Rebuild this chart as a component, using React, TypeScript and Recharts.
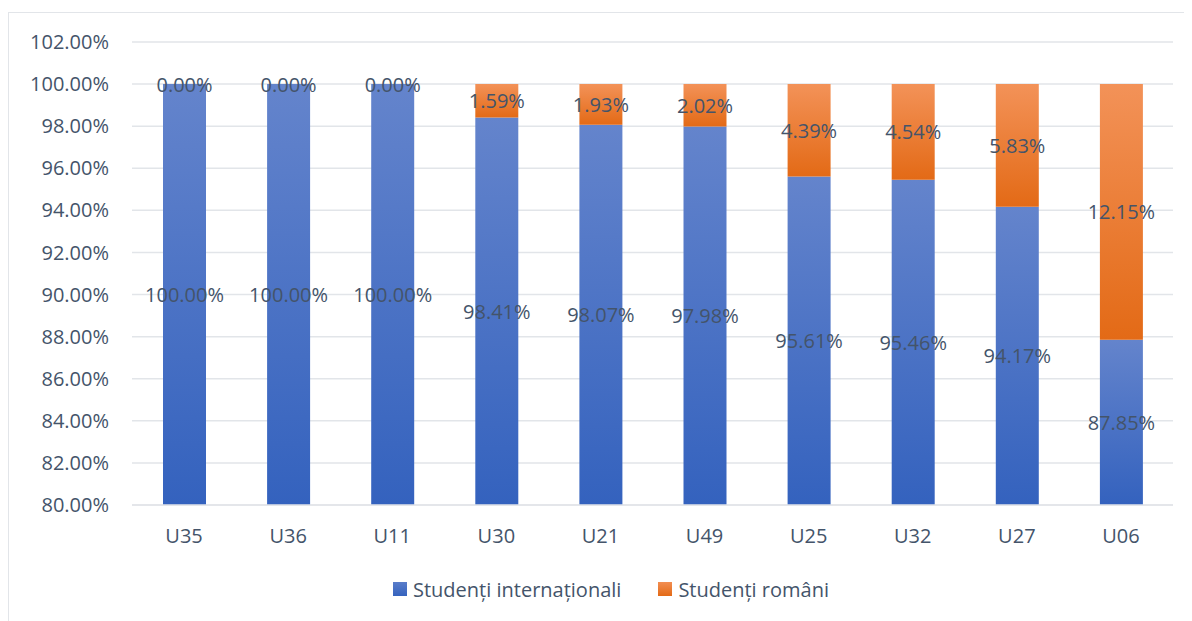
import React from 'react';
import { BarChart, Bar, XAxis, YAxis, CartesianGrid, Legend, LabelList } from 'recharts';

const categories = ['U35', 'U36', 'U11', 'U30', 'U21', 'U49', 'U25', 'U32', 'U27', 'U06'];
const international = [100, 100, 100, 98.41, 98.07, 97.98, 95.61, 95.46, 94.17, 87.85];
const romanian = [0, 0, 0, 1.59, 1.93, 2.02, 4.39, 4.54, 5.83, 12.15];
const yTickValues = [80, 82, 84, 86, 88, 90, 92, 94, 96, 98, 100, 102];
const seriesNames = ['Studenți internaționali', 'Studenți români'];

// The value axis starts at 80%; bars are measured from that baseline.
const AXIS_BASE = 80;
const AXIS_TOP = 102;

const data = categories.map((name, i) => ({
  name,
  intl: international[i] - AXIS_BASE,
  ro: romanian[i],
  intlValue: international[i],
  roValue: romanian[i],
}));

const TEXT = '#44546A';
const GRID = '#E2E5E9';
const FONT = '"Open Sans", "Noto Sans", sans-serif';
const FS = 20;

const fmt = (v: any) => `${Number(v).toFixed(2)}%`;

// Label for the Romanian segment: centred on the segment; a zero segment
// (drawn as nothing) gets its label at the top of the stack.
const RoZeroLabel = (props: any) => {
  const { x, y, width, value } = props;
  if (Number(value) !== 0) return null;
  return (
    <text x={x + width / 2} y={y} textAnchor="middle" dominantBaseline="central" fill={TEXT} fontSize={FS}>
      {fmt(value)}
    </text>
  );
};

const CenterLabel = (props: any) => {
  const { x, y, width, height, value } = props;
  if (Number(value) === 0) return null;
  return (
    <text
      x={x + width / 2}
      y={y + height / 2}
      textAnchor="middle"
      dominantBaseline="central"
      fill={TEXT}
      fontSize={FS}
    >
      {fmt(value)}
    </text>
  );
};

const LegendContent = () => (
  <div
    style={{
      display: 'flex',
      justifyContent: 'center',
      alignItems: 'center',
      height: 40,
      paddingLeft: 40,
      fontFamily: FONT,
      fontSize: FS,
      color: TEXT,
    }}
  >
    <div style={{ display: 'flex', alignItems: 'center', marginRight: 37 }}>
      <span
        style={{
          display: 'inline-block',
          width: 14,
          height: 14,
          marginRight: 6,
          background: 'linear-gradient(#5A7DCA, #3563BE)',
        }}
      />
      {seriesNames[0]}
    </div>
    <div style={{ display: 'flex', alignItems: 'center' }}>
      <span
        style={{
          display: 'inline-block',
          width: 14,
          height: 14,
          marginRight: 6,
          background: 'linear-gradient(#F28E52, #E36A16)',
        }}
      />
      {seriesNames[1]}
    </div>
  </div>
);

export default function App() {
  return (
    <div style={{ paddingTop: 4 }}>
      <div
        style={{
          borderTop: `1px solid ${GRID}`,
          borderLeft: `1px solid ${GRID}`,
          width: 1183,
          height: 608,
          background: '#fff',
        }}
      >
        <BarChart
          width={1183}
          height={608}
          data={data}
          margin={{ top: 29, right: 19, bottom: 12, left: 0 }}
          barSize={43}
          style={{ fontFamily: FONT }}
        >
          <defs>
            <linearGradient id="gradBlue" x1="0" y1="0" x2="0" y2="1">
              <stop offset="0%" stopColor="#6484CC" />
              <stop offset="100%" stopColor="#3462BE" />
            </linearGradient>
            <linearGradient id="gradOrange" x1="0" y1="0" x2="0" y2="1">
              <stop offset="0%" stopColor="#F39258" />
              <stop offset="100%" stopColor="#E36A16" />
            </linearGradient>
          </defs>
          <CartesianGrid vertical={false} stroke={GRID} strokeWidth={1.5} />
          <XAxis
            dataKey="name"
            height={64}
            tickLine={false}
            tickSize={0}
            tickMargin={24}
            axisLine={{ stroke: GRID, strokeWidth: 1.5 }}
            tick={{ fill: TEXT, fontSize: FS }}
          />
          <YAxis
            type="number"
            width={123}
            domain={[0, AXIS_TOP - AXIS_BASE]}
            ticks={yTickValues.map((t) => t - AXIS_BASE)}
            tickFormatter={(v: number) => fmt(v + AXIS_BASE)}
            axisLine={false}
            tickLine={false}
            tickSize={0}
            tickMargin={23}
            tick={{ fill: TEXT, fontSize: FS }}
          />
          <Legend verticalAlign="bottom" content={<LegendContent />} />
          <Bar dataKey="intl" name={seriesNames[0]} stackId="a" fill="url(#gradBlue)" isAnimationActive={false}>
            <LabelList dataKey="intlValue" content={<CenterLabel />} />
            <LabelList dataKey="roValue" content={<RoZeroLabel />} />
          </Bar>
          <Bar dataKey="ro" name={seriesNames[1]} stackId="a" fill="url(#gradOrange)" isAnimationActive={false}>
            <LabelList dataKey="roValue" content={<CenterLabel />} />
          </Bar>
        </BarChart>
      </div>
    </div>
  );
}
